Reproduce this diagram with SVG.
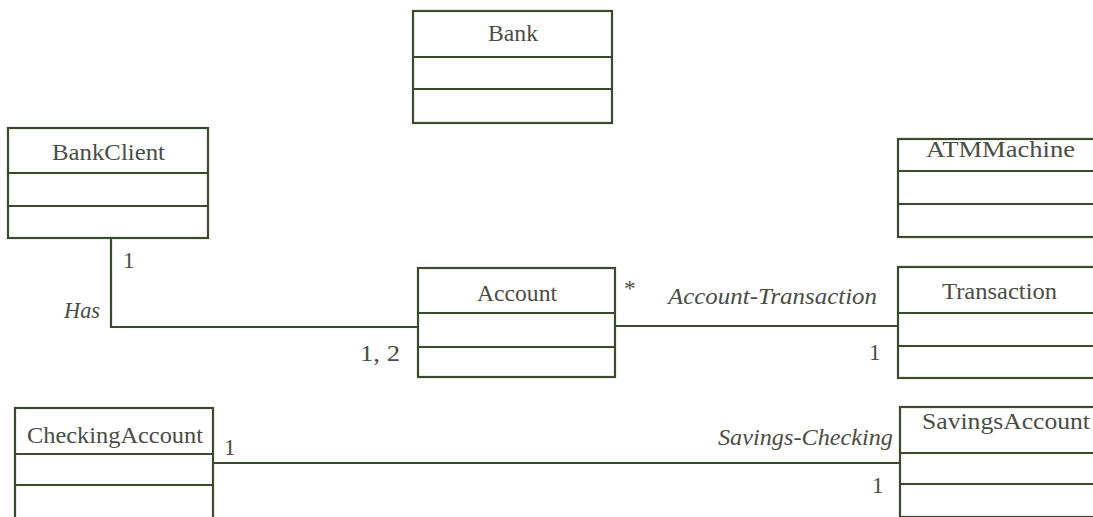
<svg xmlns="http://www.w3.org/2000/svg" width="1093" height="517" viewBox="0 0 1093 517">
<style>
.box{fill:#fff;stroke:#3b4a2c;stroke-width:2.2}
.div{stroke:#3b4a2c;stroke-width:2.2}
.conn{fill:none;stroke:#3b4a2c;stroke-width:2.2}
text{font-family:"Liberation Serif","Times New Roman",serif;font-size:23px;fill:#4a4d45}
.it{font-style:italic}
</style>
<rect width="1093" height="517" fill="#fff"/>
<g id="connectors">
<polyline class="conn" points="111,238 111,327 418,327"/>
<line class="conn" x1="615" y1="326" x2="898" y2="326"/>
<line class="conn" x1="213" y1="463" x2="900" y2="463"/>
<text x="123" y="268">1</text>
<text class="it" x="64" y="318" textLength="36" lengthAdjust="spacingAndGlyphs">Has</text>
<text x="360" y="361" textLength="40" lengthAdjust="spacingAndGlyphs">1, 2</text>
<text x="624" y="296" font-size="18">*</text>
<text class="it" x="668" y="304" textLength="209" lengthAdjust="spacingAndGlyphs">Account-Transaction</text>
<text x="869" y="360">1</text>
<text x="224" y="455">1</text>
<text class="it" x="718" y="445" textLength="175" lengthAdjust="spacingAndGlyphs">Savings-Checking</text>
<text x="872" y="493">1</text>
</g>
<g id="Bank">
<rect class="box" x="413" y="11" width="199" height="112"/>
<line class="div" x1="413" y1="57" x2="612" y2="57"/>
<line class="div" x1="413" y1="89" x2="612" y2="89"/>
<text x="488" y="41" textLength="50" lengthAdjust="spacingAndGlyphs">Bank</text>
</g>
<g id="BankClient">
<rect class="box" x="8" y="128" width="200" height="110"/>
<line class="div" x1="8" y1="173" x2="208" y2="173"/>
<line class="div" x1="8" y1="206" x2="208" y2="206"/>
<text x="52" y="160" textLength="113" lengthAdjust="spacingAndGlyphs">BankClient</text>
</g>
<g id="ATMMachine">
<rect class="box" x="898" y="139" width="210" height="98"/>
<line class="div" x1="898" y1="171" x2="1108" y2="171"/>
<line class="div" x1="898" y1="204" x2="1108" y2="204"/>
<text x="926" y="157" textLength="149" lengthAdjust="spacingAndGlyphs">ATMMachine</text>
</g>
<g id="Account">
<rect class="box" x="418" y="268" width="197" height="109"/>
<line class="div" x1="418" y1="313" x2="615" y2="313"/>
<line class="div" x1="418" y1="347" x2="615" y2="347"/>
<text x="477" y="301" textLength="80" lengthAdjust="spacingAndGlyphs">Account</text>
</g>
<g id="Transaction">
<rect class="box" x="898" y="267" width="210" height="111"/>
<line class="div" x1="898" y1="313" x2="1108" y2="313"/>
<line class="div" x1="898" y1="346" x2="1108" y2="346"/>
<text x="942" y="299" textLength="115" lengthAdjust="spacingAndGlyphs">Transaction</text>
</g>
<g id="CheckingAccount">
<rect class="box" x="15" y="408" width="198" height="120"/>
<line class="div" x1="15" y1="454" x2="213" y2="454"/>
<line class="div" x1="15" y1="485" x2="213" y2="485"/>
<text x="27" y="443" textLength="176" lengthAdjust="spacingAndGlyphs">CheckingAccount</text>
</g>
<g id="SavingsAccount">
<rect class="box" x="900" y="407" width="208" height="110"/>
<line class="div" x1="900" y1="453" x2="1108" y2="453"/>
<line class="div" x1="900" y1="484" x2="1108" y2="484"/>
<text x="922" y="429" textLength="168" lengthAdjust="spacingAndGlyphs">SavingsAccount</text>
</g>
</svg>
